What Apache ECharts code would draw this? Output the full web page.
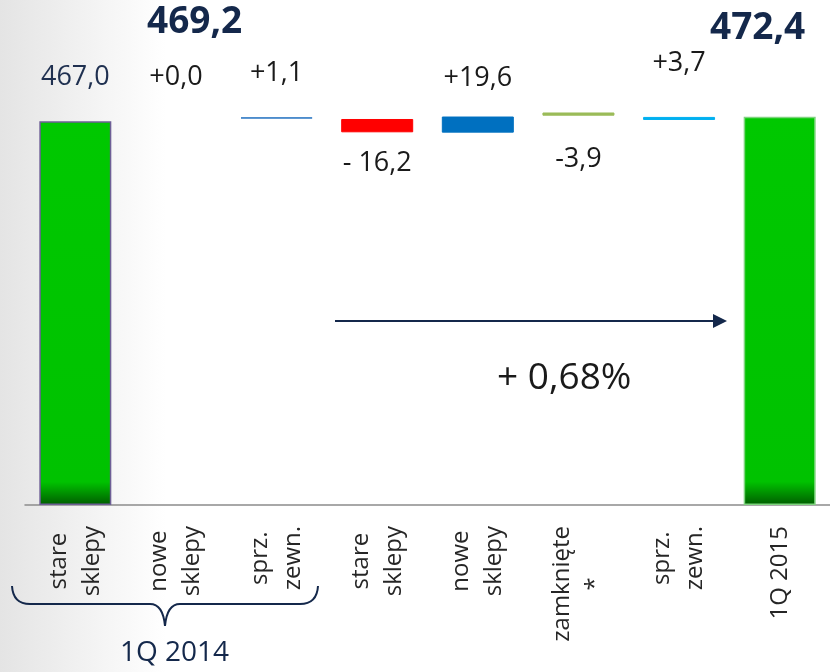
<!DOCTYPE html>
<html>
<head>
<meta charset="utf-8">
<script src="https://cdn.jsdelivr.net/npm/echarts@6/dist/echarts.min.js"></script>
<style>
  html, body { margin: 0; padding: 0; background: #fff; }
  #chart { width: 830px; height: 672px; }
</style>
</head>
<body>
<div id="chart"></div>
<script>
// dane
const categories = ['stare\nsklepy', 'nowe\nsklepy', 'sprz.\nzewn.', 'stare\nsklepy', 'nowe\nsklepy', 'zamknięte\n*', 'sprz.\nzewn.', '1Q 2015'];
const deltas = [467.0, 0.0, 1.1, -16.2, 19.6, -3.9, 3.7, 472.4];
// dolna krawedz kazdego slupka (wodospad nie jest idealnie narastajacy na obrazku)
const floors = [0, 467.0, 470.3, 453.4, 453.0, 473.6, 468.4, 0];
const valueLabels = ['467,0', '+0,0', '+1,1', '- 16,2', '+19,6', '-3,9', '+3,7', ''];
const totals = ['469,2', '472,4'];
const growthLabel = '+ 0,68%';
const groupLabel = '1Q 2014';

const barColors = ['#00c800', '#00c800', '#1f6fbf', '#ff0000', '#0070c0', '#9bbb59', '#00b0f0', '#00c800'];
const labelPos = ['top', 'top', 'top', 'bottom', 'top', 'bottom', 'top', 'top'];
const labelGap = [33, 33, 33, 20, 27, 33, 43, 0];

const navy = '#14284b';
const font = '"Open Sans", sans-serif';

const chart = echarts.init(document.getElementById('chart'));

const greenFill = new echarts.graphic.LinearGradient(0, 0, 0, 1, [
  { offset: 0, color: '#00c800' },
  { offset: 0.94, color: '#00c200' },
  { offset: 1, color: '#005c00' }
]);

const visible = deltas.map((d, i) => {
  const total = i === 0 || i === deltas.length - 1;
  return {
    value: Math.abs(d),
    itemStyle: {
      color: total ? greenFill : barColors[i],
      borderColor: i === 0 ? '#6e5f96' : (total ? '#7fd47f' : barColors[i]),
      borderWidth: total ? 1.5 : (d === 0 ? 0 : 1)
    },
    label: {
      show: valueLabels[i] !== '',
      position: labelPos[i],
      distance: labelGap[i],
      formatter: valueLabels[i],
      color: i === 0 ? '#1f3050' : '#1a1a1a',
      fontSize: 27,
      lineHeight: 22,
      fontFamily: font
    }
  };
});

// klamra pod "1Q 2014"
const brace = [
  { type: 'bezierCurve', shape: { x1: 12, y1: 586, cpx1: 13, cpy1: 604, x2: 30, y2: 604 } },
  { type: 'line', shape: { x1: 30, y1: 604, x2: 150, y2: 604 } },
  { type: 'bezierCurve', shape: { x1: 150, y1: 604, cpx1: 163, cpy1: 604, x2: 165, y2: 626 } },
  { type: 'bezierCurve', shape: { x1: 165, y1: 626, cpx1: 167, cpy1: 604, x2: 180, y2: 604 } },
  { type: 'line', shape: { x1: 180, y1: 604, x2: 300, y2: 604 } },
  { type: 'bezierCurve', shape: { x1: 300, y1: 604, cpx1: 317, cpy1: 604, x2: 318, y2: 586 } }
].map(e => Object.assign(e, { style: { stroke: navy, lineWidth: 2, fill: null } }));

const option = {
  animation: false,
  grid: { left: 25, right: -5, top: 94, bottom: 167 },
  xAxis: {
    type: 'category',
    data: categories,
    axisLine: { lineStyle: { color: '#8c8c8c', width: 1.5 } },
    axisTick: { length: 7, lineStyle: { color: '#8c8c8c', width: 1.5 } },
    axisLabel: {
      rotate: 90,
      margin: 21,
      interval: 0,
      color: '#262626',
      fontSize: 24,
      fontFamily: font,
      formatter: v => v.split('\n').map(s => '{c|' + s + '}').join('\n'),
      rich: {
        c: { align: 'center', fontSize: 24, lineHeight: 33, fontFamily: font, color: '#262626' }
      }
    }
  },
  yAxis: {
    type: 'value',
    min: 0,
    max: 500,
    show: false,
    splitLine: { show: false }
  },
  series: [
    {
      type: 'bar',
      stack: 'w',
      data: floors,
      barWidth: 72,
      itemStyle: { color: 'transparent' },
      silent: true
    },
    {
      type: 'bar',
      stack: 'w',
      data: visible,
      barWidth: 72
    }
  ],
  graphic: [
    {
      type: 'rect',
      z: -10,
      silent: true,
      shape: { x: 0, y: 0, width: 830, height: 672 },
      style: {
        fill: new echarts.graphic.LinearGradient(0, 0, 1, 0, [
          { offset: 0, color: '#e4e4e4' },
          { offset: 0.2, color: '#ffffff' },
          { offset: 1, color: '#ffffff' }
        ])
      }
    },
    {
      type: 'text', x: 147, y: 4,
      style: { text: totals[0], fill: navy, font: 'bold 37px ' + font }
    },
    {
      type: 'text', x: 710, y: 10,
      style: { text: totals[1], fill: navy, font: 'bold 37px ' + font }
    },
    {
      type: 'line',
      shape: { x1: 335, y1: 321, x2: 715, y2: 321 },
      style: { stroke: navy, lineWidth: 2 }
    },
    {
      type: 'polygon',
      shape: { points: [[713, 314], [727, 321], [713, 328]] },
      style: { fill: navy }
    },
    {
      type: 'text', x: 497, y: 360,
      style: { text: growthLabel, fill: '#1a1a1a', font: '37px ' + font }
    },
    ...brace,
    {
      type: 'text', x: 120, y: 639,
      style: { text: groupLabel, fill: navy, font: '28px ' + font }
    }
  ]
};

chart.setOption(option);
</script>
</body>
</html>
